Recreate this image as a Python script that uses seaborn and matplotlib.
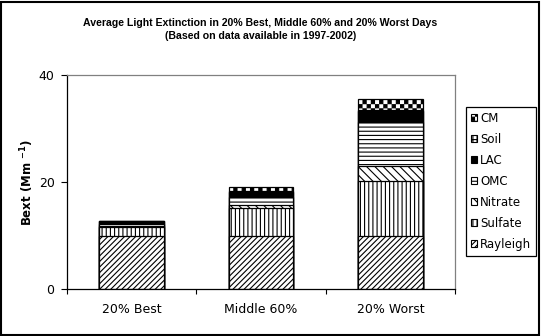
import warnings

import matplotlib
matplotlib.use("Agg")
import matplotlib.pyplot as plt
import matplotlib.hatch as mhatch
from matplotlib.path import Path
from matplotlib.patches import Patch, Rectangle
import seaborn as sns

warnings.filterwarnings("ignore")

# Average light extinction (Mm^-1) by component
categories = ["20% Best", "Middle 60%", "20% Worst"]
rayleigh = [10.0, 10.0, 10.0]
sulfate = [1.55, 5.1, 10.2]
nitrate = [0.2, 0.6, 2.8]
omc = [0.35, 1.45, 8.3]
lac = [0.55, 1.05, 2.05]
soil = [0.05, 0.1, 0.15]
cm = [0.05, 0.75, 2.0]

components = ["Rayleigh", "Sulfate", "Nitrate", "OMC", "LAC", "Soil", "CM"]
values = [rayleigh, sulfate, nitrate, omc, lac, soil, cm]
hatches = ["//////", "||||", "\\\\\\\\", "----", "", "++++", "cccc"]
faces = ["white", "white", "white", "white", "black", "white", "white"]


class CheckerHatch(mhatch.HatchPatternBase):
    """Checkerboard fill selected by the letter 'c' in a hatch string."""

    def __init__(self, hatch, density):
        n = hatch.count("c") * density
        self.num_cells = n
        self.num_vertices = (n * n // 2) * 5 if n else 0

    def set_vertices_and_codes(self, vertices, codes):
        n = self.num_cells
        step = 1.0 / n
        inset = 0.12 * step
        k = 0
        for i in range(n):
            for j in range(n):
                if (i + j) % 2:
                    continue
                x0, y0 = i * step + inset, j * step + inset
                x1, y1 = (i + 1) * step - inset, (j + 1) * step - inset
                vertices[k:k + 5] = [(x0, y0), (x1, y0), (x1, y1), (x0, y1), (x0, y0)]
                codes[k:k + 5] = [Path.MOVETO, Path.LINETO, Path.LINETO,
                                  Path.LINETO, Path.CLOSEPOLY]
                k += 5


mhatch._hatch_types.append(CheckerHatch)

sns.set_style("white")
plt.rcParams["font.family"] = ["DejaVu Sans"]
plt.rcParams["hatch.linewidth"] = 0.8
plt.rcParams["hatch.color"] = "black"
for key in ("text.color", "axes.labelcolor", "xtick.color", "ytick.color"):
    plt.rcParams[key] = "black"

fig = plt.figure(figsize=(5.46, 3.36), dpi=100)
ax = fig.add_axes([67 / 546, 1 - 289 / 336, 388 / 546, 214 / 336])

# Stacked bars: draw cumulative totals from the top layer down
cum = []
running = [0.0] * len(categories)
for vals in values:
    running = [r + v for r, v in zip(running, vals)]
    cum.append(list(running))

for name, tops, h, fc in reversed(list(zip(components, cum, hatches, faces))):
    sns.barplot(x=categories, y=tops, color=fc, saturation=1, width=0.5,
                edgecolor="black", linewidth=0.9, hatch=h, ax=ax)

ax.set_xlim(-0.5, 2.5)
ax.set_ylim(0, 40)
ax.set_yticks([0, 20, 40])
ax.set_xticks([-0.5, 0.5, 1.5, 2.5], minor=True)
ax.tick_params(axis="y", which="major", direction="out", length=4, width=0.8,
               left=True, pad=5, labelsize=9, colors="black")
ax.tick_params(axis="x", which="major", length=0, pad=10, labelsize=9,
               colors="black")
ax.tick_params(axis="x", which="minor", direction="out", length=3.5, width=0.8,
               bottom=True, color="black")

for side in ("left", "bottom"):
    ax.spines[side].set_color("black")
    ax.spines[side].set_linewidth(0.9)
for side in ("top", "right"):
    ax.spines[side].set_color("#808080")
    ax.spines[side].set_linewidth(0.9)
ax.spines["right"].set_visible(True)
ax.spines["top"].set_visible(True)

ax.set_xlabel("")
ax.set_ylabel(r"Bext (Mm $^{\mathbf{-1}}$)", fontsize=8.5, fontweight="bold",
              color="black")
ax.yaxis.set_label_coords(-0.08, 0.5)

title_font = dict(ha="center", va="center", fontsize=7.6, fontweight="bold",
                  color="black", family=["Liberation Sans", "DejaVu Sans"])
fig.text(0.477, 1 - 22.7 / 336,
         "Average Light Extinction in 20% Best, Middle 60% and 20% Worst Days",
         **title_font)
fig.text(0.477, 1 - 36 / 336, "(Based on data available in 1997-2002)",
         **title_font)

handles = [Patch(facecolor=fc, edgecolor="black", hatch=h, linewidth=0.8)
           for h, fc in zip(hatches, faces)]
leg = fig.legend(handles[::-1], components[::-1], loc="upper left",
                 bbox_to_anchor=(466 / 546, 1 - 107 / 336),
                 fontsize=8.5, frameon=True, fancybox=False, framealpha=1,
                 edgecolor="black", handlelength=0.55, handleheight=0.55,
                 handletextpad=0.25, labelspacing=0.68, borderpad=0.4,
                 borderaxespad=0)
leg.get_frame().set_linewidth(0.9)
for t in leg.get_texts():
    t.set_color("black")

fig.patches.append(Rectangle((1 / 546, 1 / 336), 538 / 546, 333 / 336,
                             transform=fig.transFigure, fill=False,
                             edgecolor="black", linewidth=1.5))

fig.savefig("out.png", dpi=100)
